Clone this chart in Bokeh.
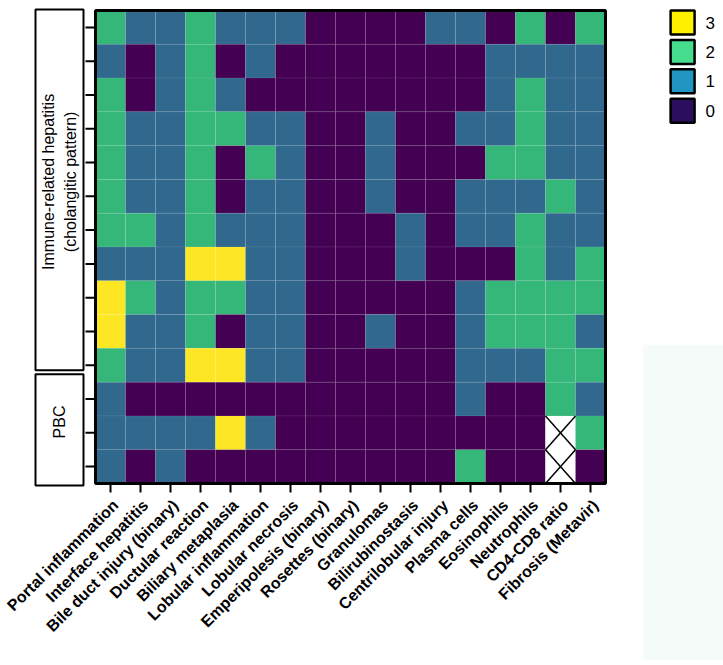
import math
from bokeh.plotting import figure
from bokeh.models import ColumnDataSource, LinearColorMapper, Range1d
from bokeh.embed import file_html
from bokeh.resources import INLINE
from bokeh.core.properties import value

# ---------------- data ----------------
features = ["Portal inflammation", "Interface hepatitis", "Bile duct injury (binary)",
            "Ductular reaction", "Biliary metaplasia", "Lobular inflammation",
            "Lobular necrosis", "Emperipolesis (binary)", "Rosettes (binary)",
            "Granulomas", "Bilirubinostasis", "Centrilobular injury", "Plasma cells",
            "Eosinophils", "Neutrophils", "CD4-CD8 ratio", "Fibrosis (Metavir)"]

N = float("nan")
# Immune-related hepatitis (cholangitic pattern) cases
immune_scores = [
    [2, 1, 1, 2, 1, 1, 1, 0, 0, 0, 0, 1, 1, 0, 2, 0, 2],
    [1, 0, 1, 2, 0, 1, 0, 0, 0, 0, 0, 0, 0, 1, 1, 1, 1],
    [2, 0, 1, 2, 1, 0, 0, 0, 0, 0, 0, 0, 0, 1, 2, 1, 1],
    [2, 1, 1, 2, 2, 1, 1, 0, 0, 1, 0, 0, 1, 1, 2, 1, 1],
    [2, 1, 1, 2, 0, 2, 1, 0, 0, 1, 0, 0, 0, 2, 2, 1, 1],
    [2, 1, 1, 2, 0, 1, 1, 0, 0, 1, 0, 0, 1, 1, 1, 2, 1],
    [2, 2, 1, 2, 1, 1, 1, 0, 0, 0, 1, 0, 1, 1, 2, 1, 1],
    [1, 1, 1, 3, 3, 1, 1, 0, 0, 0, 1, 0, 0, 0, 2, 1, 2],
    [3, 2, 1, 2, 2, 1, 1, 0, 0, 0, 0, 0, 1, 2, 2, 2, 2],
    [3, 1, 1, 2, 0, 1, 1, 0, 0, 1, 0, 0, 1, 2, 2, 2, 1],
    [2, 1, 1, 3, 3, 1, 1, 0, 0, 0, 0, 0, 1, 1, 1, 2, 2],
]
# PBC cases
pbc_scores = [
    [1, 0, 0, 0, 0, 0, 0, 0, 0, 0, 0, 0, 1, 0, 0, 2, 1],
    [1, 1, 1, 1, 3, 1, 0, 0, 0, 0, 0, 0, 0, 0, 0, N, 2],
    [1, 0, 1, 0, 0, 0, 0, 0, 0, 0, 0, 0, 2, 0, 0, N, 0],
]
groups = ["Immune-related hepatitis\n(cholangitic pattern)", "PBC"]
levels = [3, 2, 1, 0]

# ---------------- styles ----------------
cell_palette = ["#440154", "#31688E", "#35B779", "#FDE725"]
legend_palette = {3: "#FFF000", 2: "#45DC8E", 1: "#2196C2", 0: "#2B0F5E"}
FONT = "Liberation Sans"

scores = immune_scores + pbc_scores
n_rows = len(scores)
n_cols = len(features)

# canvas geometry (pixels): heat-map frame placed inside one drawing area
W, H = 723, 660
LEFT, TOP = 95, 10
FRAME_W, FRAME_H = 510, 473
PX_COL = FRAME_W / n_cols
PX_ROW = FRAME_H / n_rows

xs, ys, vs = [], [], []
for r, rowvals in enumerate(scores):
    for c, v in enumerate(rowvals):
        xs.append(c + 0.5)
        ys.append(r + 0.5)
        vs.append(v)
src = ColumnDataSource(dict(x=xs, y=ys, v=vs))

# missing cells -> crosses
nx0, ny0, nx1, ny1 = [], [], [], []
for x, y, v in zip(xs, ys, vs):
    if isinstance(v, float) and math.isnan(v):
        nx0 += [x - 0.5, x - 0.5]
        ny0 += [y - 0.5, y + 0.5]
        nx1 += [x + 0.5, x + 0.5]
        ny1 += [y + 0.5, y - 0.5]

x_range = Range1d(-LEFT / PX_COL, (W - LEFT) / PX_COL)
y_range = Range1d((H - TOP) / PX_ROW, -TOP / PX_ROW)

p = figure(width=W, height=H, x_range=x_range, y_range=y_range,
           x_axis_location=None, y_axis_location=None,
           output_backend="svg", toolbar_location=None, tools="",
           min_border=0, min_border_left=0, min_border_right=0,
           min_border_top=0, min_border_bottom=0)
p.grid.visible = False
p.outline_line_color = None
p.background_fill_color = "white"
p.border_fill_color = "white"

# faint panel at the lower right (behind everything)
p.quad(left=[18.27], right=[21.2], top=[9.9], bottom=[19.6],
       fill_color="#f4fbf8", line_color=None)

mapper = LinearColorMapper(palette=cell_palette, low=-0.5, high=3.5, nan_color="white")
p.rect("x", "y", width=1, height=1, source=src,
       fill_color={"field": "v", "transform": mapper},
       line_color="white", line_alpha=0.07, line_width=1)
p.segment(nx0, ny0, nx1, ny1, line_color="black", line_width=1.5)

# frame
p.quad(left=[0], right=[n_cols], top=[0], bottom=[n_rows], fill_color=None,
       line_color="black", line_width=3)

# ticks
TICK_X = 9 / PX_ROW
TICK_Y = 10 / PX_COL
cx = [c + 0.5 for c in range(n_cols)]
p.segment(cx, [n_rows] * n_cols, cx, [n_rows + TICK_X] * n_cols,
          line_color="black", line_width=2)
ry = [r + 0.5 for r in range(n_rows)]
p.segment([-TICK_Y] * n_rows, ry, [0] * n_rows, ry, line_color="black", line_width=2)

# rotated category labels (right end anchored just below each tick)
p.text(x=[c + 5 / PX_COL for c in cx], y=[n_rows + 19 / PX_ROW] * n_cols, text=features,
       angle=math.pi / 4, text_align="right", text_baseline="middle",
       text_font=value(FONT), text_font_style="bold", text_font_size="16px",
       text_color="black")

# group boxes on the left
box_extents = [(-0.03, 10.65), (10.77, 14.06)]
bl, br = -2.0, -0.4
p.quad(left=[bl] * len(groups), right=[br] * len(groups),
       top=[t for t, b in box_extents], bottom=[b for t, b in box_extents],
       fill_color="white", line_color="black", line_width=2)
TEXT_SHIFT = 8 / PX_ROW
p.text(x=[(bl + br) / 2] * len(groups),
       y=[(t + b) / 2 - TEXT_SHIFT for t, b in box_extents],
       text=groups, angle=math.pi / 2, text_align="center", text_baseline="middle",
       text_font=value(FONT), text_font_size="16px", text_color="black",
       text_line_height=1.25)

# colour key
key_top = [0.0 + 0.87 * k for k in range(len(levels))]
p.quad(left=[19.17] * len(levels), right=[19.97] * len(levels),
       top=key_top, bottom=[t + 0.71 for t in key_top],
       fill_color=[legend_palette[l] for l in levels],
       line_color="black", line_width=2.5)
p.text(x=[20.33] * len(levels), y=[t + 0.36 for t in key_top],
       text=[str(l) for l in levels], text_align="left", text_baseline="middle",
       text_font=value(FONT), text_font_size="17px", text_color="black")

open("out.html", "w").write(file_html(p, INLINE))
